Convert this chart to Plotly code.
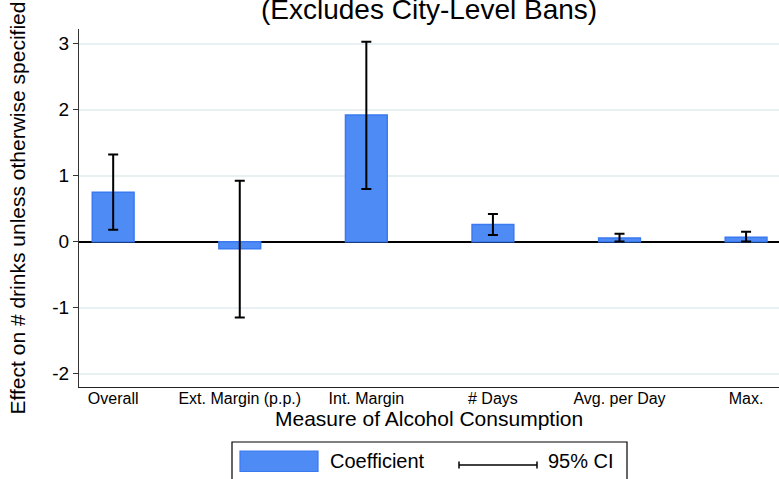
import plotly.graph_objects as go

# ---- data ----
categories = ["Overall", "Ext. Margin (p.p.)", "Int. Margin", "# Days", "Avg. per Day", "Max."]
coef = [0.75, -0.105, 1.92, 0.26, 0.056, 0.068]
ci_low = [0.18, -1.15, 0.80, 0.10, 0.003, 0.003]
ci_high = [1.32, 0.925, 3.03, 0.42, 0.12, 0.152]
y_ticks = [-2, -1, 0, 1, 2, 3]

title_text = "(Excludes City-Level Bans)"
x_title = "Measure of Alcohol Consumption"
y_title = "Effect on # drinks unless otherwise specified"
legend_labels = ["Coefficient", "95% CI"]

# ---- style ----
W, H = 779, 479
L, R, T, B = 79, 0, 29, 92
FONT = "Liberation Sans, Arial, sans-serif"
BAR_FILL = "#4F8BF5"
BAR_EDGE = "#3A7AF0"
GRID = "#E9F0F2"

plot_w = W - L - R
plot_h = H - T - B


def px_x(p):
    return (p - L) / plot_w


def px_y(p):
    return (H - B - p) / plot_h


err_plus = [h - c for h, c in zip(ci_high, coef)]
err_minus = [c - l for c, l in zip(coef, ci_low)]

fig = go.Figure()
fig.add_trace(go.Bar(
    x=categories,
    y=coef,
    width=0.33,
    marker=dict(color=BAR_FILL, line=dict(color=BAR_EDGE, width=1.5)),
    error_y=dict(type="data", symmetric=False, array=err_plus, arrayminus=err_minus,
                 color="black", thickness=2, width=5),
    showlegend=False,
))

shapes = []
annotations = []

# title (first line cut off in reference)
annotations.append(dict(text=title_text, xref="paper", yref="paper", x=0.5, y=px_y(10),
                        xanchor="center", yanchor="middle", showarrow=False,
                        font=dict(size=28, color="black", family=FONT)))

# x axis title
annotations.append(dict(text=x_title, xref="paper", yref="paper", x=0.5, y=px_y(419),
                        xanchor="center", yanchor="middle", showarrow=False,
                        font=dict(size=21, color="black", family=FONT)))

# manual legend (Stata style)
shapes.append(dict(type="rect", xref="paper", yref="paper",
                   x0=px_x(232), x1=px_x(627), y0=px_y(485), y1=px_y(442),
                   line=dict(color="black", width=1.2), fillcolor="white", layer="above"))
shapes.append(dict(type="rect", xref="paper", yref="paper",
                   x0=px_x(240), x1=px_x(318), y0=px_y(471.5), y1=px_y(451),
                   line=dict(color=BAR_EDGE, width=1.2), fillcolor=BAR_FILL, layer="above"))
ly = 465
shapes.append(dict(type="line", xref="paper", yref="paper",
                   x0=px_x(459), x1=px_x(537), y0=px_y(ly), y1=px_y(ly),
                   line=dict(color="black", width=1.5), layer="above"))
for xx in (459, 537):
    shapes.append(dict(type="line", xref="paper", yref="paper",
                       x0=px_x(xx), x1=px_x(xx), y0=px_y(ly - 3.5), y1=px_y(ly + 3.5),
                       line=dict(color="black", width=1.5), layer="above"))
annotations.append(dict(text=legend_labels[0], xref="paper", yref="paper", x=px_x(328), y=px_y(461),
                        xanchor="left", yanchor="middle", showarrow=False,
                        font=dict(size=20, color="black", family=FONT)))
annotations.append(dict(text=legend_labels[1], xref="paper", yref="paper", x=px_x(546), y=px_y(461),
                        xanchor="left", yanchor="middle", showarrow=False,
                        font=dict(size=20, color="black", family=FONT)))

fig.update_layout(
    width=W, height=H,
    margin=dict(l=L, r=R, t=T, b=B, pad=0, autoexpand=False),
    paper_bgcolor="white", plot_bgcolor="white",
    font=dict(family=FONT, color="black"),
    shapes=shapes,
    annotations=annotations,
    showlegend=False,
)

fig.update_xaxes(
    type="category",
    range=[-0.27, 5.26],
    automargin=False,
    showline=True, linecolor="#222", linewidth=1.3,
    ticks="", showgrid=False, zeroline=False,
    ticklabelstandoff=-3,
    tickfont=dict(size=16, color="black"),
    mirror=False,
)
fig.update_yaxes(
    range=[-2.2015, 3.2227],
    automargin=False,
    tickvals=y_ticks,
    ticktext=[str(v) for v in y_ticks],
    showline=True, linecolor="#333", linewidth=1.2,
    ticks="outside", ticklen=5, tickcolor="#333", tickwidth=1,
    showgrid=True, gridcolor=GRID, gridwidth=1.5,
    zeroline=True, zerolinecolor="black", zerolinewidth=2,
    tickfont=dict(size=19, color="black"),
    title=dict(text=y_title, font=dict(size=21, color="black"), standoff=20),
)

fig.write_html("out.html", config={"displayModeBar": False},
               post_script="document.body.style.margin='0';document.body.style.padding='0';")
